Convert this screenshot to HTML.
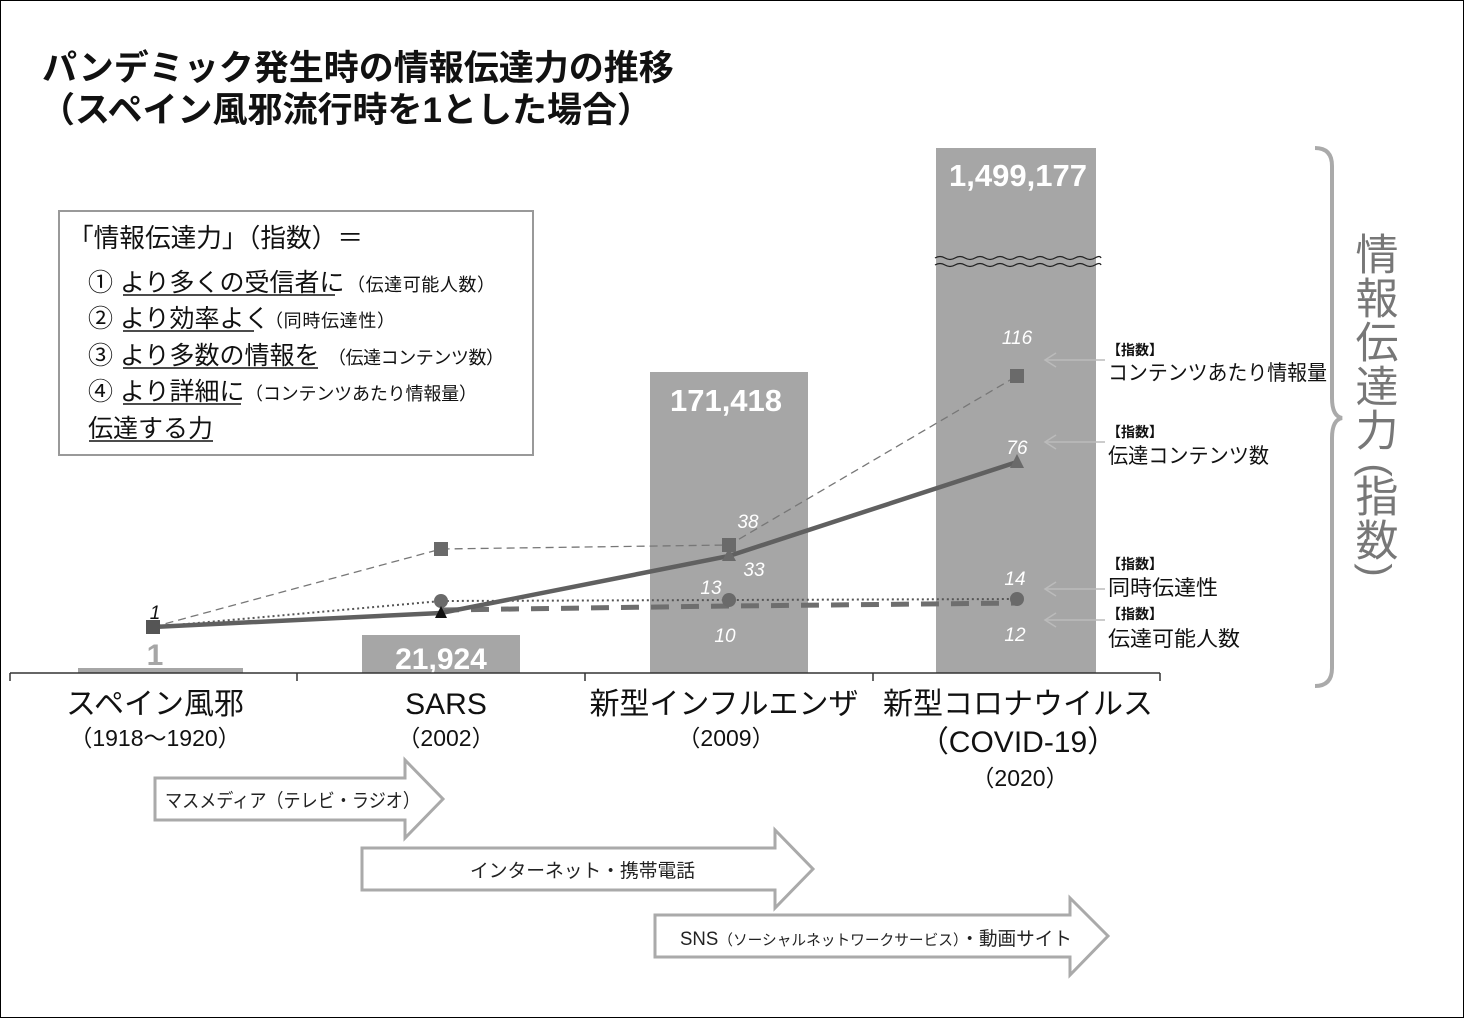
<!DOCTYPE html>
<html><head><meta charset="utf-8"><style>
html,body{margin:0;padding:0;background:#fff;}
svg{display:block;}
text{font-family:"Liberation Sans","Noto Sans CJK JP",sans-serif;}
</style></head><body>
<svg width="1464" height="1018" viewBox="0 0 1464 1018" xmlns="http://www.w3.org/2000/svg">
<rect x="0.5" y="0.5" width="1463" height="1017" fill="#fff" stroke="#000" stroke-width="1"/>
<!-- title -->
<text x="42" y="80" font-size="35" font-weight="bold" fill="#111">パンデミック発生時の情報伝達力の推移</text>
<text x="40" y="122" font-size="35" font-weight="bold" fill="#111">（スペイン風邪流行時を1とした場合）</text>
<!-- box -->
<rect x="59" y="211" width="474" height="244" fill="#fff" stroke="#999" stroke-width="2"/>
<text x="68" y="247" font-size="26" fill="#111" textLength="295" lengthAdjust="spacingAndGlyphs">「情報伝達力」（指数）＝</text>
<g font-size="25" fill="#111">
<text x="88" y="291">① より多くの受信者に</text>
<text x="347" y="291" font-size="18" textLength="148">（伝達可能人数）</text>
<text x="88" y="327">② より効率よく</text>
<text x="265" y="327" font-size="18" textLength="130">（同時伝達性）</text>
<text x="88" y="364">③ より多数の情報を</text>
<text x="328" y="364" font-size="18" textLength="176">（伝達コンテンツ数）</text>
<text x="88" y="400">④ より詳細に</text>
<text x="245" y="400" font-size="18" textLength="232">（コンテンツあたり情報量）</text>
<text x="88" y="437">伝達する力</text>
</g>
<g stroke="#111" stroke-width="1.5">
<line x1="123" y1="295" x2="335" y2="295"/>
<line x1="123" y1="331" x2="254" y2="331"/>
<line x1="123" y1="368" x2="318" y2="368"/>
<line x1="123" y1="404" x2="241" y2="404"/>
<line x1="89" y1="441" x2="213" y2="441"/>
</g>
<!-- bars -->
<rect x="78" y="668" width="165" height="5" fill="#a6a6a6"/>
<text x="155" y="665" font-size="30" font-weight="bold" fill="#a6a6a6" text-anchor="middle">1</text>
<rect x="362" y="635" width="158" height="38" fill="#a6a6a6"/>
<text x="441" y="669" font-size="30" font-weight="bold" fill="#fff" text-anchor="middle">21,924</text>
<rect x="650" y="372" width="158" height="301" fill="#a6a6a6"/>
<text x="726" y="411" font-size="31" font-weight="bold" fill="#fff" text-anchor="middle">171,418</text>
<rect x="936" y="148" width="160" height="525" fill="#a6a6a6"/>
<text x="1018" y="186" font-size="31" font-weight="bold" fill="#fff" text-anchor="middle">1,499,177</text>
<path d="M935 258 q5 -3 10 0 t10 0 t10 0 t10 0 t10 0 t10 0 t10 0 t10 0 t10 0 t10 0 t10 0 t10 0 t10 0 t10 0 t10 0 t10 0 t6 0" fill="none" stroke="#222" stroke-width="1.3"/>
<path d="M935 265 q5 -3 10 0 t10 0 t10 0 t10 0 t10 0 t10 0 t10 0 t10 0 t10 0 t10 0 t10 0 t10 0 t10 0 t10 0 t10 0 t10 0 t6 0" fill="none" stroke="#222" stroke-width="1.3"/>
<!-- axis -->
<g stroke="#333" stroke-width="1.5">
<line x1="10" y1="673" x2="1160" y2="673"/>
<line x1="10" y1="673" x2="10" y2="681"/><line x1="297" y1="673" x2="297" y2="681"/>
<line x1="585" y1="673" x2="585" y2="681"/><line x1="873" y1="673" x2="873" y2="681"/>
<line x1="1160" y1="673" x2="1160" y2="681"/>
</g>
<!-- series -->
<polyline points="153,627 441,549 729,545 1017,376" fill="none" stroke="#777" stroke-width="1.3" stroke-dasharray="8,5"/>
<polyline points="153,627 441,601 729,600 1017,599" fill="none" stroke="#555" stroke-width="2" stroke-dasharray="2,3"/>
<polyline points="441,610 729,606 1017,603" fill="none" stroke="#6e6e6e" stroke-width="5" stroke-dasharray="18,12"/>
<polyline points="153,627 441,613 729,556 1017,462" fill="none" stroke="#606060" stroke-width="4.5"/>
<g fill="#6a6a6a">
<rect x="146" y="620" width="14" height="14" fill="#555"/>
<rect x="434" y="542" width="14" height="14"/>
<rect x="722" y="538" width="14" height="14"/>
<rect x="1010" y="369" width="14" height="14"/>
<circle cx="441" cy="601" r="7"/><circle cx="729" cy="600" r="7"/><circle cx="1017" cy="599" r="7"/>
<polygon points="441,606 435,618 447,618" fill="#111"/>
<polygon points="729,548 722,561 736,561"/>
<polygon points="1017,454 1010,468 1024,468"/>
</g>
<g font-size="19" font-style="italic" fill="#fff">
<text x="155" y="619" fill="#111" text-anchor="middle">1</text>
<text x="1017" y="344" text-anchor="middle">116</text>
<text x="1017" y="454" text-anchor="middle">76</text>
<text x="748" y="528" text-anchor="middle">38</text>
<text x="754" y="576" text-anchor="middle">33</text>
<text x="711" y="594" text-anchor="middle">13</text>
<text x="1015" y="585" text-anchor="middle">14</text>
<text x="725" y="642" text-anchor="middle">10</text>
<text x="1015" y="641" text-anchor="middle">12</text>
</g>
<!-- right arrows & labels -->
<g stroke="#bbb" stroke-width="1.5" fill="none">
<line x1="1045" y1="360" x2="1105" y2="360"/><polyline points="1056,353 1045,360 1056,367"/>
<line x1="1045" y1="442" x2="1105" y2="442"/><polyline points="1056,435 1045,442 1056,449"/>
<line x1="1045" y1="589" x2="1105" y2="589"/><polyline points="1056,582 1045,589 1056,596"/>
<line x1="1045" y1="620" x2="1105" y2="620"/><polyline points="1056,613 1045,620 1056,627"/>
</g>
<g fill="#111">
<text x="1107" y="355" font-size="14" font-weight="bold">【指数】</text>
<text x="1108" y="380" font-size="21" textLength="219" lengthAdjust="spacingAndGlyphs">コンテンツあたり情報量</text>
<text x="1107" y="437" font-size="14" font-weight="bold">【指数】</text>
<text x="1108" y="463" font-size="21" textLength="161" lengthAdjust="spacingAndGlyphs">伝達コンテンツ数</text>
<text x="1107" y="569" font-size="14" font-weight="bold">【指数】</text>
<text x="1108" y="595" font-size="21" textLength="110" lengthAdjust="spacingAndGlyphs">同時伝達性</text>
<text x="1107" y="619" font-size="14" font-weight="bold">【指数】</text>
<text x="1108" y="646" font-size="21" textLength="132" lengthAdjust="spacingAndGlyphs">伝達可能人数</text>
</g>
<!-- brace -->
<path d="M1315 148 q17 0 17 18 v232 q0 18 10 20 q-10 2 -10 20 v230 q0 18 -17 18" fill="none" stroke="#aaa" stroke-width="4"/>
<g font-size="43" fill="#777" text-anchor="middle">
<text x="1377" y="270">情</text><text x="1377" y="314">報</text><text x="1377" y="358">伝</text>
<text x="1377" y="402">達</text><text x="1377" y="446">力</text>
<text x="1377" y="470" transform="rotate(90 1377 470)" font-size="40" dy="14">(</text>
<text x="1377" y="512">指</text><text x="1377" y="556">数</text>
<text x="1377" y="570" transform="rotate(90 1377 570)" font-size="40" dy="14">)</text>
</g>
<!-- category labels -->
<g fill="#111" text-anchor="middle">
<text x="155" y="714" font-size="30">スペイン風邪</text>
<text x="155" y="746" font-size="23">（1918～1920）</text>
<text x="446" y="714" font-size="30">SARS</text>
<text x="446" y="746" font-size="23">（2002）</text>
<text x="724" y="714" font-size="30">新型インフルエンザ</text>
<text x="726" y="746" font-size="23">（2009）</text>
<text x="1018" y="714" font-size="30">新型コロナウイルス</text>
<text x="1018" y="752" font-size="30">（COVID-19）</text>
<text x="1020" y="786" font-size="23">（2020）</text>
</g>
<!-- block arrows -->
<g fill="#fff" stroke="#aaa" stroke-width="3">
<polygon points="155,778 405,778 405,760 443,799 405,838 405,820 155,820"/>
<polygon points="362,848 775,848 775,830 813,869 775,908 775,890 362,890"/>
<polygon points="655,915 1070,915 1070,898 1108,936 1070,975 1070,957 655,957"/>
</g>
<g fill="#222">
<text x="165" y="807" font-size="19" textLength="255" lengthAdjust="spacingAndGlyphs">マスメディア（テレビ・ラジオ）</text>
<text x="470" y="877" font-size="19" textLength="225" lengthAdjust="spacingAndGlyphs">インターネット・携帯電話</text>
<text x="680" y="945" font-size="19" textLength="392" lengthAdjust="spacingAndGlyphs">SNS<tspan font-size="15">（ソーシャルネットワークサービス）</tspan>・動画サイト</text>
</g>
</svg>
</body></html>
